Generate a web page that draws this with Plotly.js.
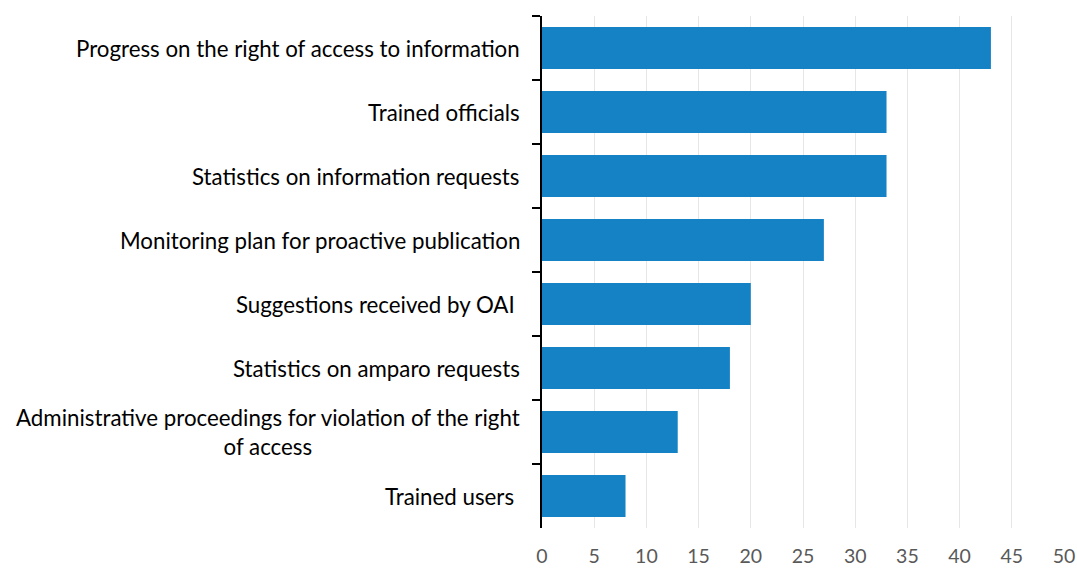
<!DOCTYPE html>
<html>
<head>
<meta charset="utf-8">
<script src="https://cdn.plot.ly/plotly-3.0.1.min.js"></script>
<style>
  body { margin: 0; background: #fff; }
  #chart { width: 1077px; height: 568px; }
</style>
</head>
<body>
<div id="chart"></div>
<script>
var categories = [
  "Progress on the right of access to information",
  "Trained officials",
  "Statistics on information requests",
  "Monitoring plan for proactive publication",
  "Suggestions received by OAI\u00a0",
  "Statistics on amparo requests",
  "Administrative proceedings for violation of the right<br>of access",
  "Trained users\u00a0"
];
var values = [43, 33, 33, 27, 20, 18, 13, 8];

var xTicks = [0, 5, 10, 15, 20, 25, 30, 35, 40, 45, 50];

var data = [
  {
    type: "bar",
    orientation: "h",
    y: categories,
    x: values,
    marker: { color: "#1482C5" },
    width: 0.66,
    hoverinfo: "x+y",
  },
];

// category labels as annotations so the two-line one can be centred
var annotations = categories.map(function (c) {
  return {
    xref: "paper",
    yref: "y",
    x: 0,
    y: c,
    xanchor: "right",
    yanchor: "middle",
    xshift: -20,
    align: "center",
    showarrow: false,
    text: c,
    font: { family: "Lato, sans-serif", size: 22.3, color: "#000" },
  };
});

var layout = {
  width: 1077,
  height: 568,
  margin: { l: 542, r: 13, t: 16, b: 40 },
  paper_bgcolor: "#fff",
  plot_bgcolor: "#fff",
  showlegend: false,
  bargap: 0.34,
  xaxis: {
    range: [0, 50],
    tickvals: xTicks,
    showgrid: true,
    gridcolor: "#E6E6E6",
    gridwidth: 1,
    zeroline: false,
    showline: false,
    ticks: "",
    ticklabelstandoff: 14,
    tickfont: { family: "Lato, sans-serif", size: 19.5, color: "#595959" },
  },
  yaxis: {
    autorange: "reversed",
    showticklabels: false,
    showline: true,
    linecolor: "#000",
    linewidth: 2,
    ticks: "outside",
    tickson: "boundaries",
    ticklen: 8,
    tickwidth: 2,
    tickcolor: "#000",
    showgrid: false,
    zeroline: false,
  },
  annotations: annotations,
};

var config = { responsive: false, displayModeBar: false };
Plotly.newPlot("chart", data, layout, config);
</script>
</body>
</html>
